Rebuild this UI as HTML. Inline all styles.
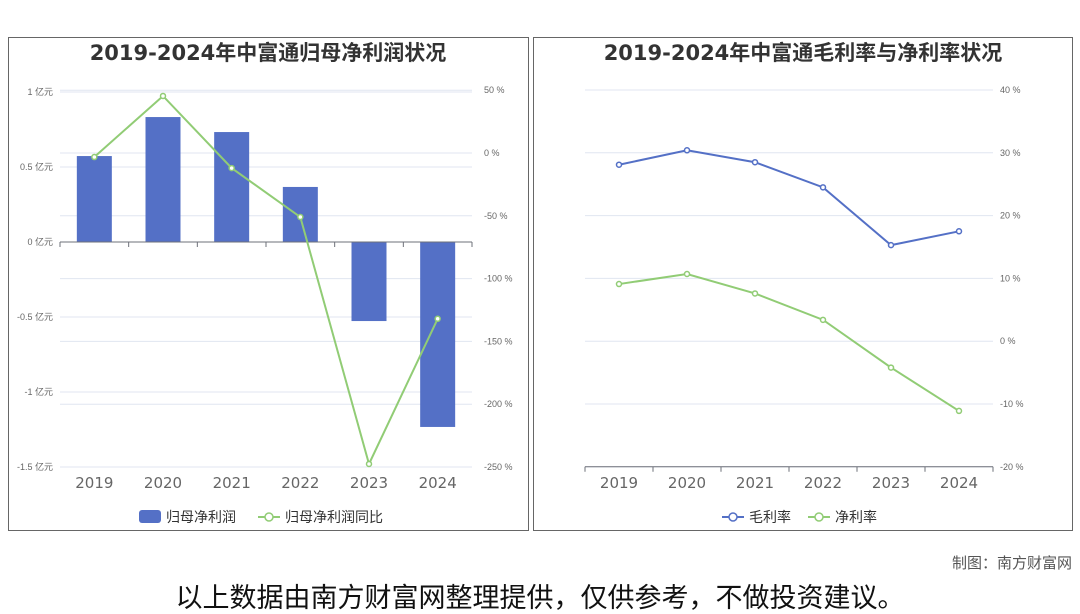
<!DOCTYPE html>
<html><head><meta charset="utf-8"><style>
html,body{margin:0;padding:0;background:#fff;width:1080px;height:614px;overflow:hidden}
svg{display:block;font-family:"Liberation Sans","Noto Sans CJK SC",sans-serif}
</style></head><body>
<svg id="s" width="1080" height="614" xmlns="http://www.w3.org/2000/svg">
<rect x="8.5" y="37.5" width="520" height="493" fill="#fff" stroke="#666"/>
<rect x="533.5" y="37.5" width="539" height="493" fill="#fff" stroke="#666"/>
<text x="268" y="60" text-anchor="middle" font-size="21" font-weight="bold" fill="#333" style="font-family:'DejaVu Sans','Noto Sans CJK SC',sans-serif">2019-2024年中富通归母净利润状况</text>
<text x="803" y="60" text-anchor="middle" font-size="21" font-weight="bold" fill="#333" style="font-family:'DejaVu Sans','Noto Sans CJK SC',sans-serif">2019-2024年中富通毛利率与净利率状况</text>
<g id="L"></g><g id="R"></g>
<g>
<rect x="139" y="510" width="22" height="13" rx="3" fill="#5470c6"/>
<text x="166" y="522" font-size="14" fill="#333">归母净利润</text>
<line x1="258" y1="517" x2="280" y2="517" stroke="#91cc75" stroke-width="2"/><circle cx="269" cy="517" r="4" fill="#fff" stroke="#91cc75" stroke-width="1.5"/>
<text x="285" y="522" font-size="14" fill="#333">归母净利润同比</text>
</g>
<g>
<line x1="722" y1="517" x2="744" y2="517" stroke="#5470c6" stroke-width="2"/><circle cx="733" cy="517" r="4" fill="#fff" stroke="#5470c6" stroke-width="1.5"/>
<text x="749" y="522" font-size="14" fill="#333">毛利率</text>
<line x1="808" y1="517" x2="830" y2="517" stroke="#91cc75" stroke-width="2"/><circle cx="819" cy="517" r="4" fill="#fff" stroke="#91cc75" stroke-width="1.5"/>
<text x="835" y="522" font-size="14" fill="#333">净利率</text>
</g>
<text x="1072" y="568" text-anchor="end" font-size="15" fill="#555">制图：南方财富网</text>
<text x="540" y="607" text-anchor="middle" font-size="27" fill="#111">以上数据由南方财富网整理提供，仅供参考，不做投资建议。</text>
</svg>
<script>
const years=['2019','2020','2021','2022','2023','2024'];
const profit=[0.573,0.833,0.733,0.367,-0.527,-1.233];
const profitYoy=[-3.2,45.4,-12,-51,-247.6,-132];
const leftTicks=[1,0.5,0,-0.5,-1,-1.5];
const rightTicksL=[50,0,-50,-100,-150,-200,-250];
const grossMargin=[28.1,30.4,28.5,24.5,15.3,17.5];
const netMargin=[9.1,10.7,7.6,3.4,-4.2,-11.1];
const rightTicksR=[40,30,20,10,0,-10,-20];
const NS='http://www.w3.org/2000/svg';
function mk(p,t,a){const e=document.createElementNS(NS,t);for(const k in a)e.setAttribute(k,a[k]);p.appendChild(e);return e;}
const TF="'DejaVu Sans',sans-serif";
// left chart
const L=document.getElementById('L');
const lx0=60,lx1=472,bw=(lx1-lx0)/years.length;
const yL=v=>242-v*150;
const yLr=v=>153-v*62.8/50;
const xc=(x0,w,i)=>x0+w*(i+0.5);
rightTicksL.forEach(t=>{const g=mk(L,'line',{x1:lx0,x2:lx1,y1:yLr(t),y2:yLr(t),stroke:'#e0e6f1'});

const tx=mk(L,'text',{x:484,y:yLr(t)+3,'font-size':9,fill:'#666'});tx.textContent=t+' %';
});
leftTicks.forEach(t=>{const g=mk(L,'line',{x1:lx0,x2:lx1,y1:yL(t),y2:yL(t),stroke:'#e0e6f1'});

const tx=mk(L,'text',{x:53,y:yL(t)+3,'font-size':9,fill:'#666','text-anchor':'end'});tx.textContent=t+' 亿元';
});
profit.forEach((v,i)=>{const y=Math.min(yL(v),yL(0));const r=mk(L,'rect',{x:xc(lx0,bw,i)-17.5,y:y,width:35,height:Math.abs(yL(v)-yL(0)),fill:'#5470c6'});
});
const ax=mk(L,'line',{x1:lx0,x2:lx1,y1:yL(0),y2:yL(0),stroke:'#6e7079'});

for(let i=0;i<=years.length;i++)mk(L,'line',{x1:lx0+bw*i,x2:lx0+bw*i,y1:yL(0),y2:yL(0)+5,stroke:'#6e7079'});
years.forEach((y,i)=>{const t=mk(L,'text',{x:xc(lx0,bw,i),y:488,'font-size':15,fill:'#666','text-anchor':'middle',style:'font-family:'+TF});t.textContent=y;
});
const pl=mk(L,'polyline',{points:profitYoy.map((v,i)=>xc(lx0,bw,i)+','+yLr(v)).join(' '),fill:'none',stroke:'#91cc75','stroke-width':2});

profitYoy.forEach((v,i)=>{const c=mk(L,'circle',{cx:xc(lx0,bw,i),cy:yLr(v),r:2.5,fill:'#fff',stroke:'#91cc75','stroke-width':1.5});
});
// right chart
const R=document.getElementById('R');
const rx0=585,rx1=993,rw=(rx1-rx0)/years.length;
const yR=v=>90+(40-v)*6.28;
rightTicksR.forEach(t=>{const g=mk(R,'line',{x1:rx0,x2:rx1,y1:yR(t),y2:yR(t),stroke:'#e0e6f1'});

const tx=mk(R,'text',{x:1000,y:yR(t)+3,'font-size':9,fill:'#666'});tx.textContent=t+' %';
});
const ax2=mk(R,'line',{x1:rx0,x2:rx1,y1:yR(-20),y2:yR(-20),stroke:'#6e7079'});

for(let i=0;i<=years.length;i++)mk(R,'line',{x1:rx0+rw*i,x2:rx0+rw*i,y1:yR(-20),y2:yR(-20)+5,stroke:'#6e7079'});
years.forEach((y,i)=>{const t=mk(R,'text',{x:xc(rx0,rw,i),y:488,'font-size':15,fill:'#666','text-anchor':'middle',style:'font-family:'+TF});t.textContent=y;
});
[[grossMargin,'#5470c6','gross'],[netMargin,'#91cc75','net']].forEach(([d,c,n])=>{
const p=mk(R,'polyline',{points:d.map((v,i)=>xc(rx0,rw,i)+','+yR(v)).join(' '),fill:'none',stroke:c,'stroke-width':2});

d.forEach((v,i)=>{const e=mk(R,'circle',{cx:xc(rx0,rw,i),cy:yR(v),r:2.5,fill:'#fff',stroke:c,'stroke-width':1.5});
});});
</script>
</body></html>
